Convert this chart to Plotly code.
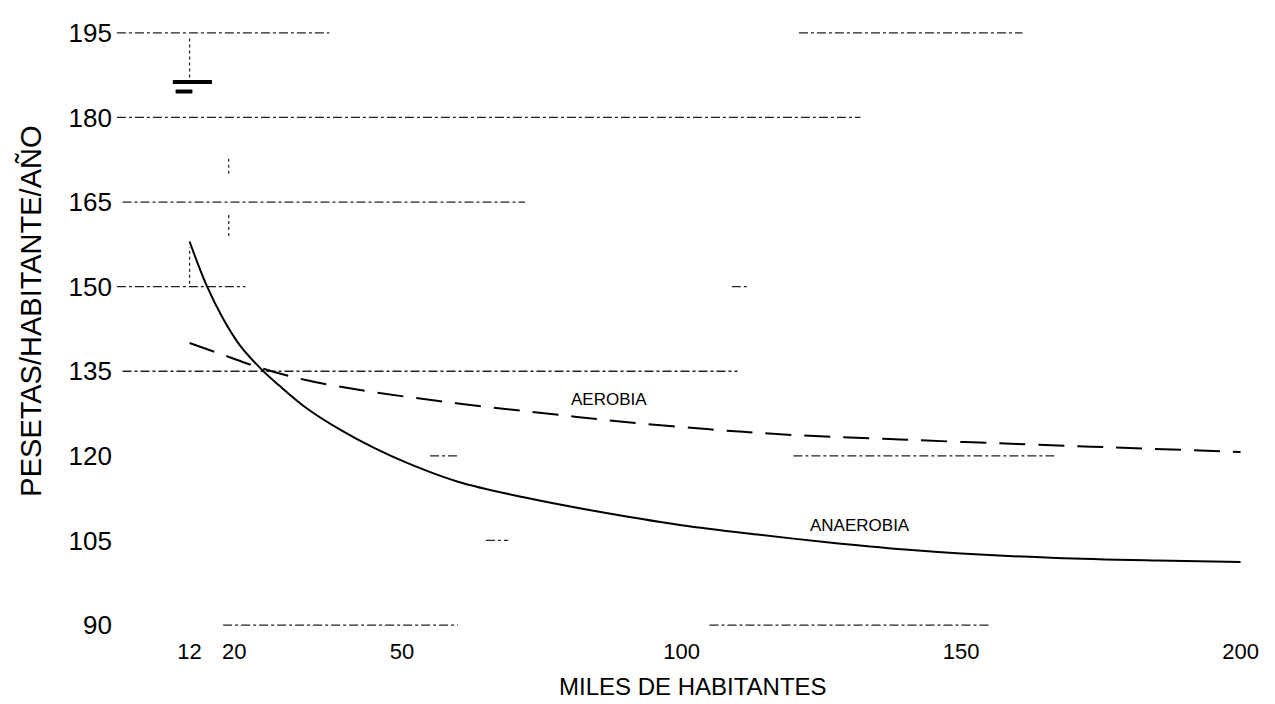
import plotly.graph_objects as go

# curve readings (miles de habitantes -> pesetas/habitante/año)
aerobia_x = [12, 18, 25, 33, 45, 60, 75, 89, 105, 120, 139, 160, 180, 200]
aerobia_y = [140.0, 137.9, 135.5, 133.4, 131.3, 129.3, 127.6, 126.1, 124.7, 123.7, 122.9, 122.1, 121.4, 120.7]

anaerobia_x = [12, 15, 18, 21, 25, 28, 33, 39, 45, 51, 60, 72, 84, 100, 114, 126, 140, 150, 167, 185, 200]
anaerobia_y = [158.0, 150.3, 144.3, 139.6, 135.2, 132.5, 128.4, 124.6, 121.4, 118.7, 115.4, 112.6,
               110.3, 107.7, 106.0, 104.7, 103.4, 102.7, 101.9, 101.45, 101.2]

x_ticks = [12, 20, 50, 100, 150, 200]
y_ticks = [90, 105, 120, 135, 150, 165, 180, 195]

# broken grid pieces left over from the scanned original: (y level, x start, x end)
grid_pieces = [(195, -1, 37), (195, 121, 161), (180, -1, 132), (165, 0, 72),
               (150, -1, 22), (150, 109, 112), (135, 0, 110), (120, 55, 60),
               (120, 120, 167), (105, 65, 69), (90, 18, 60), (90, 105, 155)]
# short vertical scraps: (x, y start, y end)
grid_scraps = [(12, 186, 194), (12, 150.5, 157), (19, 159, 163), (19, 170, 173)]

FONT = "Liberation Sans, Arial, sans-serif"

fig = go.Figure()

fig.add_trace(go.Scatter(x=aerobia_x, y=aerobia_y, mode="lines", name="AEROBIA",
                         line=dict(color="black", width=2, dash="26px,13px", shape="spline")))
fig.add_trace(go.Scatter(x=anaerobia_x, y=anaerobia_y, mode="lines", name="ANAEROBIA",
                         line=dict(color="black", width=2, shape="spline")))

for lvl, xa, xb in grid_pieces:
    fig.add_shape(type="line", xref="x", yref="y", x0=xa, x1=xb, y0=lvl, y1=lvl,
                  line=dict(color="#222222", width=1.3, dash="dashdot"), layer="below")
for xv, ya, yb in grid_scraps:
    fig.add_shape(type="line", xref="x", yref="y", x0=xv, x1=xv, y0=ya, y1=yb,
                  line=dict(color="#222222", width=1.2, dash="dot"), layer="below")

# scan smudge near the top left
fig.add_shape(type="line", xref="x", yref="y", x0=9, x1=16, y0=186.3, y1=186.3,
              line=dict(color="black", width=4), layer="below")
fig.add_shape(type="line", xref="x", yref="y", x0=9.5, x1=12.5, y0=184.6, y1=184.6,
              line=dict(color="black", width=4), layer="below")

fig.add_annotation(x=87, y=130.0, text="AEROBIA", showarrow=False, xref="x", yref="y",
                   font=dict(family=FONT, size=17, color="black"))
fig.add_annotation(x=132, y=107.7, text="ANAEROBIA", showarrow=False, xref="x", yref="y",
                   font=dict(family=FONT, size=17, color="black"))

# axis titles
fig.add_annotation(x=-0.0707, y=0.529, xref="paper", yref="paper", text="PESETAS/HABITANTE/AÑO",
                   xanchor="center", yanchor="middle", textangle=-90, showarrow=False,
                   font=dict(family=FONT, size=29, color="black"))
fig.add_annotation(x=0.5, y=-0.082, xref="paper", yref="paper", text="MILES DE HABITANTES",
                   xanchor="center", yanchor="middle", showarrow=False,
                   font=dict(family=FONT, size=24, color="black"))

fig.update_layout(
    width=1275, height=704,
    margin=dict(l=105, r=10, t=10, b=76),
    paper_bgcolor="white", plot_bgcolor="white",
    showlegend=False,
    xaxis=dict(range=[-1.7, 205.8], tickvals=x_ticks, ticktext=[str(v) for v in x_ticks],
               showgrid=False, zeroline=False, showline=False,
               tickfont=dict(family=FONT, size=22, color="black")),
    yaxis=dict(range=[88.06, 197.1], tickvals=y_ticks, showgrid=False, zeroline=False,
               showline=False, tickfont=dict(family=FONT, size=26, color="black")),
)

fig.write_html("out.html")
